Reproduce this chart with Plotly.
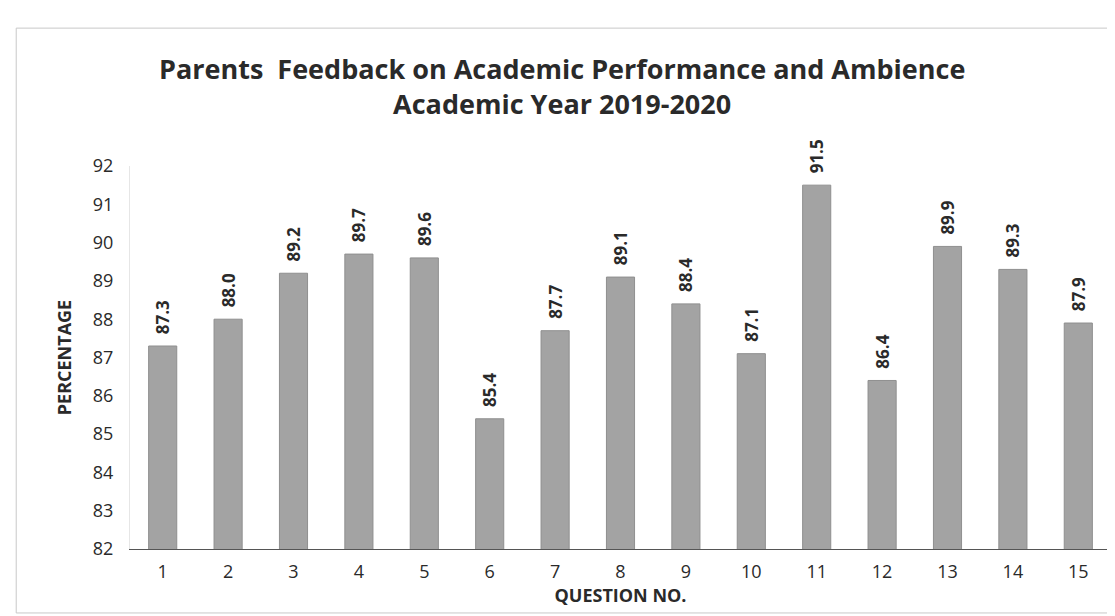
import plotly.graph_objects as go

questions = [str(i) for i in range(1, 16)]
percentages = [87.3, 88.0, 89.2, 89.7, 89.6, 85.4, 87.7, 89.1, 88.4, 87.1, 91.5, 86.4, 89.9, 89.3, 87.9]
labels = [f"\u00a0\u00a0{v:.1f}" for v in percentages]
y_ticks = list(range(82, 93))

font_family = "Open Sans, Lato, sans-serif"

fig = go.Figure(go.Bar(
    x=questions,
    y=percentages,
    base=0,
    marker=dict(color="#a3a3a3", line=dict(color="#8f8f8f", width=1)),
    width=0.43,
    text=labels,
    textposition="outside",
    textangle=-90,
    constraintext="none",
    textfont=dict(family=font_family, size=17, color="#2a2a2a", weight="bold"),
    cliponaxis=False,
))

fig.update_layout(
    width=1115, height=616,
    paper_bgcolor="white", plot_bgcolor="white",
    margin=dict(l=122, r=12, t=158, b=75),
    title=dict(
        text="Parents  Feedback on Academic Performance and Ambience<br>Academic Year 2019-2020",
        x=0.497, xanchor="center", y=0.885, yanchor="top",
        font=dict(family=font_family, size=27, color="#2a2a2a", weight="bold"),
    ),
    showlegend=False,
    shapes=[dict(type="rect", xref="paper", yref="paper", x0=-0.116, x1=1.005, y0=-0.167, y1=1.36,
                 line=dict(color="#c8c8c8", width=1))],
)

fig.update_xaxes(
    showline=True, linecolor="#555555", linewidth=1,
    ticks="", showgrid=False,
    ticklabelstandoff=6,
    tickfont=dict(family=font_family, size=18, color="#2a2a2a"),
    title=dict(text="QUESTION NO.", font=dict(family=font_family, size=18, color="#2a2a2a", weight="bold"), standoff=0),
)
fig.update_yaxes(
    range=[82, 92], tickvals=y_ticks, showgrid=False, zeroline=False,
    showline=True, linecolor="#e6e6e6", linewidth=1,
    ticks="",
    ticklabelstandoff=12,
    tickfont=dict(family=font_family, size=18, color="#2a2a2a"),
    title=dict(text="PERCENTAGE", font=dict(family=font_family, size=18, color="#2a2a2a", weight="bold"), standoff=16),
)

fig.write_html("out.html")
